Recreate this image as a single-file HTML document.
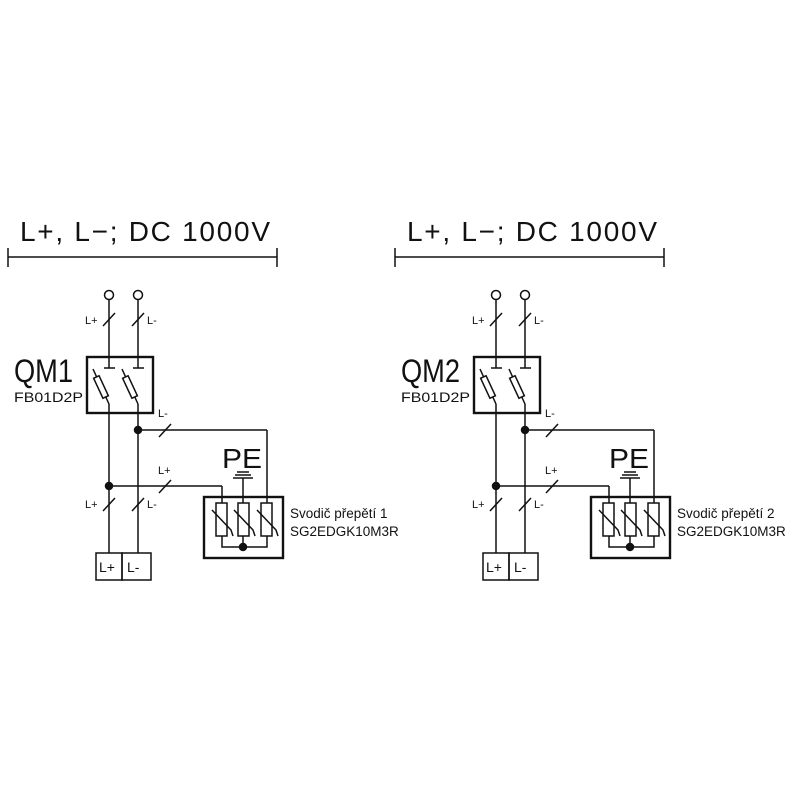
<!DOCTYPE html>
<html><head><meta charset="utf-8"><style>
html,body{margin:0;padding:0;background:#fff;}
svg{display:block;}
text{font-family:"Liberation Sans","DejaVu Sans",sans-serif;fill:#111;}
</style></head><body>
<svg width="800" height="800" viewBox="0 0 800 800" xmlns="http://www.w3.org/2000/svg">
<defs>
<g id="ckt" stroke="#111" fill="none" stroke-width="1.5">
  <text x="20" y="241" font-size="28" stroke="none" textLength="250" lengthAdjust="spacing">L+, L−; DC 1000V</text>
  <line x1="8" y1="257" x2="277" y2="257"/>
  <line x1="8" y1="248" x2="8" y2="267"/>
  <line x1="277" y1="248" x2="277" y2="267"/>
  <circle cx="109" cy="295" r="4.5"/>
  <circle cx="138" cy="295" r="4.5"/>
  <line x1="109" y1="300" x2="109" y2="368"/>
  <line x1="138" y1="300" x2="138" y2="368"/>
  <line x1="103" y1="326" x2="115" y2="313"/>
  <line x1="132" y1="326" x2="144" y2="313"/>
  <text x="85" y="324" font-size="11" stroke="none">L+</text>
  <text x="147" y="324" font-size="11" stroke="none">L-</text>
  <rect x="87" y="357" width="66" height="56" stroke-width="2.4"/>
  <line x1="104" y1="368" x2="115" y2="368"/>
  <line x1="133" y1="368" x2="144" y2="368"/>
  <line x1="93" y1="369" x2="109" y2="404"/>
  <line x1="122" y1="369" x2="138" y2="404"/>
  <rect x="-3" y="-11" width="6" height="22" transform="translate(101,387) rotate(-25)" fill="#fff"/>
  <rect x="-3" y="-11" width="6" height="22" transform="translate(130,387) rotate(-25)" fill="#fff"/>
  <line x1="109" y1="404" x2="109" y2="553"/>
  <line x1="138" y1="404" x2="138" y2="553"/>
  <text x="158" y="417" font-size="11" stroke="none">L-</text>
  <circle cx="138" cy="430" r="3.5" fill="#111"/>
  <line x1="138" y1="430" x2="267" y2="430"/>
  <line x1="267" y1="430" x2="267" y2="503"/>
  <line x1="159" y1="437" x2="171" y2="424"/>
  <text x="158" y="474" font-size="11" stroke="none">L+</text>
  <circle cx="109" cy="486" r="3.5" fill="#111"/>
  <line x1="109" y1="486" x2="222" y2="486"/>
  <line x1="222" y1="486" x2="222" y2="503"/>
  <line x1="159" y1="493" x2="171" y2="480"/>
  <line x1="103" y1="511" x2="115" y2="498"/>
  <line x1="132" y1="511" x2="144" y2="498"/>
  <text x="85" y="508" font-size="11" stroke="none">L+</text>
  <text x="147" y="508" font-size="11" stroke="none">L-</text>
  <text x="222" y="468" font-size="28" stroke="none" textLength="40" lengthAdjust="spacingAndGlyphs">PE</text>
  <line x1="237" y1="472" x2="249" y2="472"/>
  <line x1="235" y1="475" x2="251" y2="475"/>
  <line x1="233" y1="478" x2="253" y2="478"/>
  <line x1="243" y1="478" x2="243" y2="503"/>
  <rect x="204" y="497" width="79" height="61" stroke-width="2.4"/>
  <rect x="216" y="503" width="11" height="33"/>
  <rect x="238" y="503" width="11" height="33"/>
  <rect x="261" y="503" width="11" height="33"/>
  <polyline points="212,510 231,530 233,536"/>
  <polyline points="234,510 253,530 255,536"/>
  <polyline points="257,510 276,530 278,536"/>
  <polyline points="222,536 222,547 267,547 267,536"/>
  <line x1="243" y1="536" x2="243" y2="547"/>
  <circle cx="243" cy="547" r="3.5" fill="#111"/>
  <rect x="96" y="553" width="26" height="27"/>
  <rect x="122" y="553" width="29" height="27"/>
  <text x="99" y="572" font-size="14" stroke="none">L+</text>
  <text x="127" y="572" font-size="14" stroke="none">L-</text>
</g>
</defs>
<use href="#ckt"/>
<text x="14" y="382" font-size="32" textLength="59" lengthAdjust="spacingAndGlyphs">QM1</text>
<text x="14" y="402" font-size="14" textLength="69" lengthAdjust="spacingAndGlyphs">FB01D2P</text>
<text x="290" y="518" font-size="13.5">Svodič přepětí 1</text>
<text x="290" y="536" font-size="13.5">SG2EDGK10M3R</text>
<g transform="translate(387,0)">
<use href="#ckt"/>
</g>
<text x="401" y="382" font-size="32" textLength="59" lengthAdjust="spacingAndGlyphs">QM2</text>
<text x="401" y="402" font-size="14" textLength="69" lengthAdjust="spacingAndGlyphs">FB01D2P</text>
<text x="677" y="518" font-size="13.5">Svodič přepětí 2</text>
<text x="677" y="536" font-size="13.5">SG2EDGK10M3R</text>
</svg>
</body></html>
